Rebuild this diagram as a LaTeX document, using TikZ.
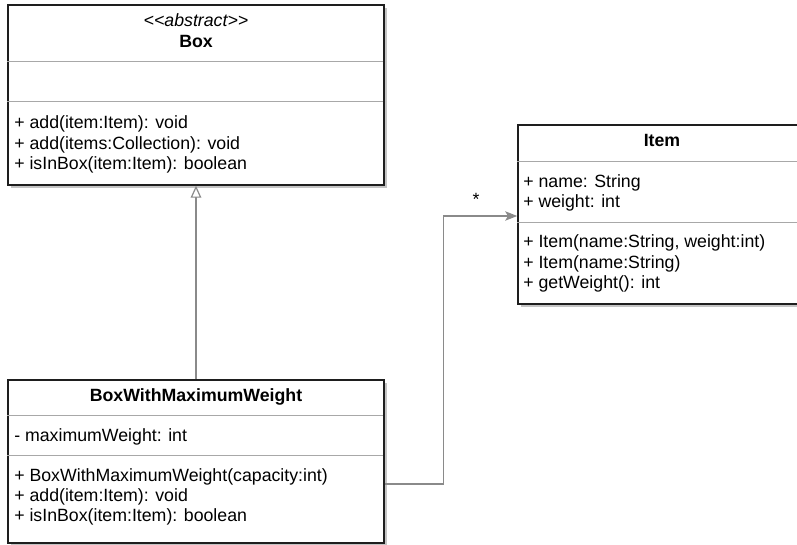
\documentclass[tikz,border=0pt]{standalone}
\usepackage{fontspec}
\setmainfont{Liberation Sans}
\usetikzlibrary{arrows.meta,shadows,calc}
\definecolor{border}{HTML}{1E1E1E}
\definecolor{divider}{HTML}{A8A8A8}
\definecolor{conn}{HTML}{8A8A8A}
\definecolor{shade}{HTML}{C4C4C4}
\begin{document}
\begin{tikzpicture}[x=0.75pt,y=-0.75pt,
  classbox/.style={draw=border, line width=1.1pt, fill=white, inner sep=0pt,
    drop shadow={shadow xshift=2.6pt, shadow yshift=-2.6pt, fill=shade, opacity=1}},
  div/.style={draw=divider, line width=0.9pt},
  txt/.style={inner sep=0pt, anchor=base west, font=\fontsize{13.3}{16}\selectfont},
  ttl/.style={inner sep=0pt, anchor=base, font=\fontsize{13.3}{16}\selectfont\bfseries},
  ster/.style={inner sep=0pt, anchor=base, font=\fontsize{13.3}{16}\selectfont\itshape},
  inh/.style={draw=conn, line width=0.9pt, -{Triangle[open, fill=white, length=9pt, width=8pt]}},
  assoc/.style={draw=conn, line width=1pt, -{Stealth[length=9pt, width=7pt, inset=2pt]}}]
\useasboundingbox (0,0) rectangle (797,545);
\clip (0,0) rectangle (797,545);
\fill[white] (0,0) rectangle (797,545);

% Box
\node[classbox, minimum width=282pt, minimum height=135pt] (box) at (196,95) {};
\draw[div] ($(box.north west)+(0,57)$) -- ++(376,0);
\draw[div] ($(box.north west)+(0,97)$) -- ++(376,0);
\node[ster] (boxst) at (196,27) {<{}<abstract>{}>};
\node[ttl] (boxt) at (196,48) {Box};
\node[txt] (boxm1) at (14,129) {+ add(item:Item): void};
\node[txt] (boxm2) at (14,149.5) {+ add(items:Collection): void};
\node[txt] (boxm3) at (14,170) {+ isInBox(item:Item): boolean};

% BoxWithMaximumWeight
\node[classbox, minimum width=282pt, minimum height=122.25pt] (bw) at (196,461.5) {};
\draw[div] ($(bw.north west)+(0,36)$) -- ++(376,0);
\draw[div] ($(bw.north west)+(0,76)$) -- ++(376,0);
\node[ttl] (bwt) at (196,402) {BoxWithMaximumWeight};
\node[txt] (bwa1) at (14,442) {- maximumWeight: int};
\node[txt] (bwm1) at (14,482) {+ BoxWithMaximumWeight(capacity:int)};
\node[txt] (bwm2) at (14,502) {+ add(item:Item): void};
\node[txt] (bwm3) at (14,522) {+ isInBox(item:Item): boolean};

% Item
\node[classbox, minimum width=216pt, minimum height=134.25pt] (item) at (662,214.5) {};
\draw[div] ($(item.north west)+(0,37)$) -- ++(288,0);
\draw[div] ($(item.north west)+(0,98)$) -- ++(288,0);
\node[ttl] (itemt) at (662,147) {Item};
\node[txt] (itema1) at (523,188) {+ name: String};
\node[txt] (itema2) at (523,208) {+ weight: int};
\node[txt] (itemm1) at (523,248) {+ Item(name:String, weight:int)};
\node[txt] (itemm2) at (523,268.5) {+ Item(name:String)};
\node[txt] (itemm3) at (523,289) {+ getWeight(): int};

% connectors
\draw[inh] (bw.north) -- (box.south);
\draw[assoc] ($(bw.east)+(0,22.5)$) -- ++(59,0) |- ($(item.west)+(0,1.5)$);
\node[inner sep=0pt, font=\fontsize{13.3}{16}\selectfont] (mult) at (476,199) {*};
\end{tikzpicture}
\end{document}
